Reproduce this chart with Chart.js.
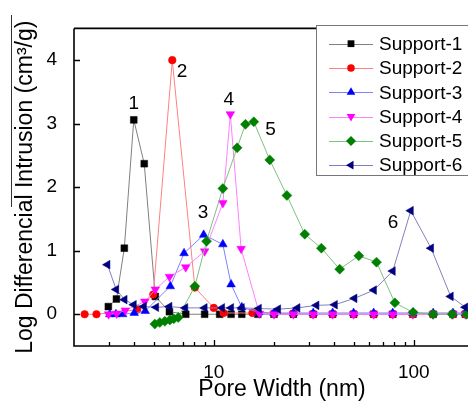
<!DOCTYPE html>
<html><head><meta charset="utf-8">
<script src="https://cdn.jsdelivr.net/npm/chart.js@4.4.0/dist/chart.umd.min.js"></script>
<style>
html,body{margin:0;padding:0;background:#fff;overflow:hidden;width:468px;height:401px}
#wrap{position:absolute;left:0;top:0;width:480px;height:401px}
</style>
</head><body><div id="wrap"><canvas id="c" width="480" height="401"></canvas></div>
<script>
// ---- data (pore width in nm, log differential intrusion in cm3/g) ----
const seriesNames = ['Support-1','Support-2','Support-3','Support-4','Support-5','Support-6'];
const s1x = [2.97,3.26,3.57,3.98,4.49,5.1,6.0,7.24,9.0,10.7,12.2,13.8,16.6,20,25,31.4,39.3,50,63,78.5,99,125,157,181];
const s1y = [0.12,0.24,1.04,3.06,2.37,0.28,0.04,0,0,0,0,0,0,0,0,0,0,0,0,0,0,0,0,0];
const s2x = [2.26,2.59,4.14,4.98,6.2,8.04,10.0,11.2,15.6,20,24.9,31.4,39.3,50.1,63.1,78.5,98.8,124.7,157,181];
const s2y = [0,0,0.07,0.31,4.0,0.42,0.1,0.02,0.02,0.01,0.01,0,0,0,0,0,0,0,0,0];
const s3x = [3.02,3.24,3.5,4.0,4.54,6.06,7.1,8.9,11.1,12.2,13.8,16.8,20,25,31.4,39.3,50,63,78.5,99,125,157,181];
const s3y = [0,0,0,0.02,0.05,0.44,0.96,1.25,1.1,0.47,0.11,0.03,0.02,0.02,0.02,0.02,0.02,0.02,0.02,0.02,0.02,0.02,0.02];
const s4x = [2.98,3.27,3.61,4.52,5.1,6.0,7.24,9.0,11.1,12.1,13.7,16.9,20,25,31.4,39.3,50,63,78.5,99,125,157,181];
const s4y = [0,0.01,0.06,0.2,0.39,0.59,0.74,0.99,1.75,3.15,1.03,0.01,0,0,0,0,0,0,0,0,0,0,0];
const s5x = [5.07,5.37,5.69,6.03,6.31,6.64,8.04,9.2,11.1,13.08,14.4,15.85,19.05,23.2,28.5,34.5,42.6,53.1,65.1,80.4,99.2,124.8,155.5,183.7];
const s5y = [-0.155,-0.13,-0.11,-0.09,-0.07,-0.05,0.44,1.15,1.98,2.62,2.99,3.03,2.43,1.87,1.26,1.04,0.71,0.92,0.82,0.18,0.03,0,0,0];
const s6x = [2.94,3.25,3.58,3.98,4.47,5.15,6.0,7.2,9.0,11.0,12.2,13.8,16.8,20.97,26.2,32.6,40.3,50.5,63.2,78.5,96.6,122,153,181];
const s6y = [0.78,0.39,0.23,0.15,0.12,0.11,0.12,0.1,0.1,0.1,0.1,0.1,0.09,0.08,0.1,0.14,0.15,0.25,0.38,0.68,1.63,1.04,0.28,0.11];

const xTickValues = [10, 100];
const xMinorValues = [3,4,5,6,7,8,9,20,30,40,50,60,70,80,90,200];
const yTickValues = [0, 1, 2, 3, 4];

const peakLabels = ['1','2','3','4','5','6'];
const peakLabelX = [3.98, 6.94, 8.84, 11.88, 19.2, 78.8];
const peakLabelY = [3.32, 3.82, 1.6, 3.38, 2.91, 1.44];

// ---- styles ----
const markerColors = ['#000000','#ff0000','#0000ff','#ff00ff','#008000','#000080'];
const lineColors = ['#808080','#ff8080','#8080ff','#ff80ff','#80c080','#8080c0'];
const pStyles = ['rect','circle','triangle','triangle','rectRot','triangle'];
const pRot = [0,0,0,180,0,-90];
const pRad = [4.8,3.8,5,5,5,5];

const xs = [s1x,s2x,s3x,s4x,s5x,s6x];
const ys = [s1y,s2y,s3y,s4y,s5y,s6y];

const datasets = seriesNames.map((n,i)=>({
  label:n,
  data: xs[i].map((x,k)=>({x:x,y:ys[i][k]})),
  borderColor: lineColors[i],
  backgroundColor: markerColors[i],
  pointBackgroundColor: markerColors[i],
  pointBorderColor: markerColors[i],
  pointBorderWidth: 0.5,
  borderWidth: 1,
  pointStyle: pStyles[i],
  pointRotation: pRot[i],
  pointRadius: pRad[i],
  pointHoverRadius: pRad[i],
  tension: 0,
  order: 5 - i,
  clip: false
}));

const FONT = '"Liberation Sans", Arial, sans-serif';

function drawMarker(ctx, style, rot, r, x, y){
  ctx.beginPath();
  const rad = rot*Math.PI/180;
  if(style==='circle'){ ctx.arc(x,y,r,0,Math.PI*2); }
  else if(style==='rect'){ const s=r*Math.SQRT1_2; ctx.rect(x-s,y-s,2*s,2*s); }
  else if(style==='rectRot'){ ctx.moveTo(x,y-r); ctx.lineTo(x+r,y); ctx.lineTo(x,y+r); ctx.lineTo(x-r,y); ctx.closePath(); }
  else if(style==='triangle'){
    let a=rad;
    ctx.moveTo(x+Math.sin(a)*r, y-Math.cos(a)*r);
    a+=2*Math.PI/3; ctx.lineTo(x+Math.sin(a)*r, y-Math.cos(a)*r);
    a+=2*Math.PI/3; ctx.lineTo(x+Math.sin(a)*r, y-Math.cos(a)*r);
    ctx.closePath();
  }
  ctx.fill();
}

const framePlugin = {
  id:'frame',
  afterDraw(chart){
    const {ctx, chartArea:a, scales} = chart;
    const sx = scales.x, sy = scales.y;
    ctx.save();
    // frame
    ctx.strokeStyle='#000'; ctx.lineWidth=1.6;
    ctx.beginPath();
    ctx.moveTo(a.left, a.top); ctx.lineTo(a.right, a.top);
    ctx.moveTo(a.left, a.top); ctx.lineTo(a.left, a.bottom); ctx.lineTo(a.right, a.bottom);
    ctx.stroke();
    // inward ticks
    ctx.lineWidth=1.3;
    ctx.beginPath();
    yTickValues.forEach(v=>{const py=Math.round(sy.getPixelForValue(v))+0.5; ctx.moveTo(a.left,py); ctx.lineTo(a.left+6,py);});
    xTickValues.forEach(v=>{const px=Math.round(sx.getPixelForValue(v))+0.5; ctx.moveTo(px,a.bottom); ctx.lineTo(px,a.bottom-6);});
    xMinorValues.forEach(v=>{const px=Math.round(sx.getPixelForValue(v))+0.5; ctx.moveTo(px,a.bottom); ctx.lineTo(px,a.bottom-4);});
    ctx.stroke();
    // peak labels
    ctx.fillStyle='#000'; ctx.font='19px '+FONT; ctx.textAlign='center'; ctx.textBaseline='middle';
    peakLabels.forEach((t,i)=>{ ctx.fillText(t, sx.getPixelForValue(peakLabelX[i]), sy.getPixelForValue(peakLabelY[i])); });
    // axis titles
    ctx.font='23px '+FONT;
    ctx.fillText('Pore Width (nm)', 282, 390);
    ctx.save();
    ctx.translate(26, (a.top+a.bottom)/2);
    ctx.rotate(-Math.PI/2);
    ctx.fillText('Log Differencial Intrusion (cm\u00B3/g)', 0, 0);
    ctx.restore();
    // overline artifact on y title
    ctx.lineWidth=1; ctx.strokeStyle='#333';
    ctx.beginPath(); ctx.moveTo(11.5,15); ctx.lineTo(11.5,207); ctx.stroke();
    // legend
    const lx=316.5, ly=25.5, lh=150;
    ctx.fillStyle='#fff'; ctx.fillRect(lx,ly,200,lh);
    ctx.strokeStyle='#777'; ctx.lineWidth=1; ctx.strokeRect(lx,ly,200,lh);
    ctx.font='19px '+FONT; ctx.textAlign='left'; ctx.textBaseline='middle';
    chart.data.datasets.forEach((d,i)=>{
      const yy = 43.7 + i*24.3;
      ctx.strokeStyle=lineColors[i]; ctx.lineWidth=1;
      ctx.beginPath(); ctx.moveTo(329,Math.round(yy)+0.5); ctx.lineTo(373,Math.round(yy)+0.5); ctx.stroke();
      ctx.fillStyle=markerColors[i];
      drawMarker(ctx,pStyles[i],pRot[i],pRad[i],351,yy);
      ctx.fillStyle='#000';
      ctx.fillText(d.label, 379, yy+1);
    });
    ctx.restore();
  }
};

new Chart(document.getElementById('c'), {
  type:'line',
  data:{datasets:datasets},
  options:{
    responsive:false, animation:false, devicePixelRatio:1,
    layout:{padding:{top:22,right:6,left:0,bottom:0}},
    plugins:{legend:{display:false}, tooltip:{enabled:false}},
    scales:{
      x:{type:'logarithmic', min:2, max:200,
         grid:{display:false, drawTicks:false}, border:{display:false},
         afterBuildTicks:s=>{s.ticks = xTickValues.map(v=>({value:v}));},
         afterFit:s=>{s.height=55;},
         ticks:{color:'#000', font:{family:FONT,size:19}, padding:15, maxRotation:0, autoSkip:false, callback:v=>String(v)}},
      y:{type:'linear', min:-0.5, max:4.5,
         grid:{display:false, drawTicks:false}, border:{display:false},
         afterBuildTicks:s=>{s.ticks = yTickValues.map(v=>({value:v}));},
         afterFit:s=>{s.width=74;},
         ticks:{color:'#000', font:{family:FONT,size:19}, padding:17, callback:v=>String(v)}}
    }
  },
  plugins:[framePlugin]
});
</script>
</body></html>
